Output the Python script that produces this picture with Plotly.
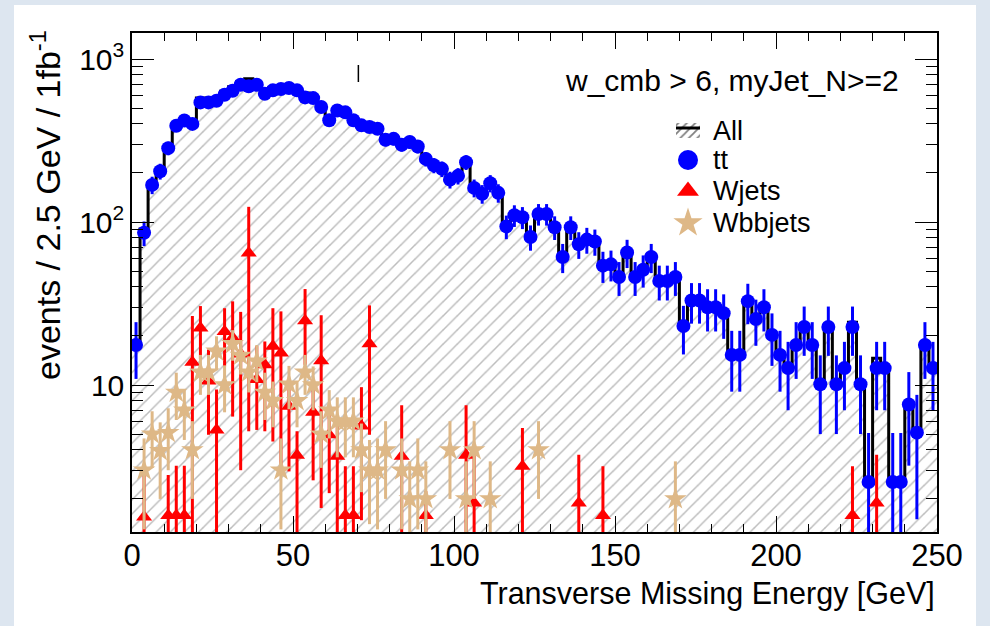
import numpy as np
import plotly.graph_objects as go

BIN_WIDTH = 2.5
N_BINS = 100

# tt (blue points), one value per 2.5 GeV bin
tt = [17.6, 86, 169, 205, 284, 390, 420, 400, 542, 542,
      555, 604, 639, 696, 680, 696, 612, 643, 655, 664,
      643, 582, 576, 508, 421, 484, 471, 421, 392, 383,
      374, 320, 324, 298, 310, 291, 244, 223, 212, 182,
      192, 233, 162, 149, 173, 151, 94, 110, 107, 81,
      112, 112, 93, 61, 93, 73, 78, 76, 54, 55,
      46, 65, 46, 51, 61, 43.5, 43.5, 46, 23, 33,
      33, 30, 30, 27.6, 15.3, 15.3, 32.7, 25.4, 30, 20.3,
      15.3, 12.7, 17.6, 22.7, 17.6, 10.1, 22.7, 10.1, 12.7, 22.7,
      10.1, 2.54, 12.7, 12.7, 2.54, 2.54, 7.6, 5.1, 17.6, 12.7]
tt_err = [6.7, 14.8, 20.7, 22.8, 26.9, 31.5, 32.7, 31.9, 37.1, 37.1,
          37.5, 39.2, 40.3, 42.0, 41.6, 42.0, 39.4, 40.4, 40.8, 41.1,
          40.4, 38.4, 38.2, 35.9, 32.7, 35.1, 34.6, 32.7, 31.6, 31.2,
          30.8, 28.5, 28.7, 27.5, 28.1, 27.2, 24.9, 23.8, 23.2, 21.5,
          22.1, 24.3, 20.3, 19.5, 21.0, 19.6, 15.5, 16.7, 16.5, 14.3,
          16.9, 16.9, 15.4, 12.4, 15.4, 13.6, 14.1, 13.9, 11.7, 11.8,
          10.8, 12.8, 10.8, 11.4, 12.4, 10.5, 10.5, 10.8, 7.6, 9.2,
          9.2, 8.7, 8.7, 8.4, 6.2, 6.2, 9.1, 8.0, 8.7, 7.2,
          6.2, 5.7, 6.7, 7.6, 6.7, 5.1, 7.6, 5.1, 5.7, 7.6,
          5.1, 2.54, 5.7, 5.7, 2.54, 2.54, 4.4, 3.6, 6.7, 5.7]

# Wjets (red triangles): bin index, value, upper and lower end of error bar
wj_bin = [1, 4, 5, 6, 7, 8, 9, 10, 11, 12, 13, 14, 15, 16, 17, 18, 19, 20,
          21, 22, 23, 24, 25, 26, 27, 28, 29, 33, 36, 41, 42, 48, 55, 58, 89, 92]
wj_val = [1.55, 1.58, 1.58, 1.58, 13.8, 22.4, 10.6, 5.3, 21.3, 19.5, 15.5, 64.6,
          10.8, 13.3, 17.3, 15.7, 7.4, 3.7, 24.8, 6.8, 14.1, 4.95, 3.66, 1.58,
          1.58, 5.6, 17.9, 3.66, 1.58, 3.7, 1.89, 3.17, 1.89, 1.58, 1.58, 1.89]
wj_hi = [3.2, 2.8, 3.2, 3.2, 26.5, 30.5, 16.5, 9.4, 29.6, 32.6, 28.1, 124,
         17.3, 18.5, 29.6, 28.3, 10.3, 5.2, 38.8, 10.0, 26.8, 6.7, 5.7, 3.17,
         3.17, 9.7, 30.8, 7.5, 2.23, 7.5, 3.7, 5.45, 3.73, 3.17, 3.17, 3.73]
wj_lo = [0, 0, 0, 0, 0, 14.4, 4.95, 0, 13.0, 6.4, 3.0, 5.2,
         5.3, 5.2, 4.5, 2.95, 2.95, 0, 13.3, 2.6, 1.76, 2.17, 0, 0,
         0, 1.48, 4.95, 0, 0, 0, 0, 0, 0, 0, 0, 0]

# Wbbjets (tan stars): bin index, value, error
wbb_bin = [1, 2, 3, 4, 5, 6, 7, 8, 9, 10, 11, 12, 13, 14, 15, 16, 17, 18, 19, 20,
           21, 22, 23, 24, 25, 26, 27, 28, 29, 30, 31, 33, 34, 35, 36, 39, 41, 42,
           44, 50, 67]
wbb_val = [3.0, 5.0, 3.95, 5.1, 9.0, 7.0, 4.0, 12.0, 12.0, 16.1, 10.0, 17.9, 15.2,
           12.0, 14.0, 9.0, 8.0, 3.0, 10.1, 8.0, 12.0, 10.0, 5.0, 7.0, 6.0, 6.0,
           6.0, 4.0, 3.0, 3.0, 4.0, 3.0, 2.0, 3.0, 2.0, 4.0, 2.0, 4.0, 2.0, 4.0, 2.0]
wbb_err = [1.7, 1.9, 1.95, 2.1, 2.9, 2.4, 2.0, 3.3, 3.3, 3.8, 3.2, 3.8, 3.6,
           3.0, 3.6, 2.9, 2.5, 1.7, 3.0, 2.5, 3.3, 3.0, 1.9, 2.3, 2.4, 2.4,
           2.4, 1.8, 1.6, 1.7, 2.0, 1.7, 1.4, 1.7, 1.4, 2.0, 1.4, 2.0, 1.4, 2.0, 1.4]

y_tick_vals = [10, 100, 1000]
y_tick_text = ["10", "10<sup>2</sup>", "10<sup>3</sup>"]
x_tick_vals = [0, 50, 100, 150, 200, 250]

legend_names = ["All", "tt", "Wjets", "Wbbjets"]
cut_label = "w_cmb > 6, myJet_N>=2"
x_title = "Transverse Missing Energy [GeV]"
y_title = "events / 2.5 GeV / 1fb<sup>-1</sup>"

# ---------------------------------------------------------------------------
edges = np.arange(N_BINS + 1) * BIN_WIDTH
centers = edges[:-1] + BIN_WIDTH / 2
total = np.array(tt, dtype=float)
for b, v in zip(wj_bin, wj_val):
    total[b] += v
for b, v in zip(wbb_bin, wbb_val):
    total[b] += v
step_y = list(total) + [total[-1]]

wj_x = centers[wj_bin]
wj_plus = [h - v for h, v in zip(wj_hi, wj_val)]
wj_minus = [v - l for v, l in zip(wj_val, wj_lo)]
wbb_x = centers[wbb_bin]

BLUE = "#0000ff"
RED = "#ff0000"
TAN = "#deb887"
HATCH = "#7a7a7a"

# plot area in pixels
L, R, T, B = 132, 937, 33, 532
W, H = R - L, B - T


def px(x):
    return (x - L) / W


def py(y):
    return 1 - (y - T) / H


fig = go.Figure()

fig.add_trace(go.Scatter(
    x=edges, y=step_y, mode="lines", line=dict(color="black", width=3, shape="hv"),
    fill="tozeroy", fillcolor="white",
    fillpattern=dict(shape="/", fgcolor=HATCH, bgcolor="white", size=10, solidity=0.15),
    showlegend=False, hoverinfo="skip"))

fig.add_trace(go.Scatter(
    x=centers, y=tt, mode="markers",
    marker=dict(symbol="circle", size=14, color=BLUE),
    error_y=dict(type="data", array=tt_err, color=BLUE, thickness=3, width=0),
    showlegend=False))

fig.add_trace(go.Scatter(
    x=wj_x, y=wj_val, mode="markers",
    marker=dict(symbol="triangle-up", size=14, color=RED),
    error_y=dict(type="data", symmetric=False, array=wj_plus, arrayminus=wj_minus,
                 color=RED, thickness=3, width=0),
    showlegend=False))

fig.add_trace(go.Scatter(
    x=wbb_x, y=wbb_val, mode="markers",
    marker=dict(symbol="star", size=17, color=TAN, line=dict(width=0)),
    error_y=dict(type="data", array=wbb_err, color=TAN, thickness=3, width=0),
    showlegend=False))

# ---- hand-built legend on an overlay axis in [0,1] ----
leg_x_sym = px(688)
leg_rows = [131, 160, 191, 223]
icon_x = [px(676), px(700), px(700), px(676), px(676)]
icon_y = [py(138), py(138), py(123), py(123), py(138)]
fig.add_trace(go.Scatter(
    x=icon_x, y=icon_y, xaxis="x2", yaxis="y2", mode="lines",
    line=dict(color="black", width=0), fill="toself", fillcolor="white",
    fillpattern=dict(shape="/", fgcolor="black", bgcolor="white", size=6, solidity=0.3),
    showlegend=False, hoverinfo="skip"))
fig.add_trace(go.Scatter(
    x=[px(676), px(700)], y=[py(128), py(128)], xaxis="x2", yaxis="y2", mode="lines",
    line=dict(color="black", width=3), showlegend=False, hoverinfo="skip"))
fig.add_trace(go.Scatter(
    x=[leg_x_sym], y=[py(leg_rows[1])], xaxis="x2", yaxis="y2", mode="markers",
    marker=dict(symbol="circle", size=20, color=BLUE), showlegend=False, hoverinfo="skip"))
fig.add_trace(go.Scatter(
    x=[leg_x_sym], y=[py(leg_rows[2])], xaxis="x2", yaxis="y2", mode="markers",
    marker=dict(symbol="triangle-up", size=19, color=RED), showlegend=False, hoverinfo="skip"))
fig.add_trace(go.Scatter(
    x=[leg_x_sym], y=[py(leg_rows[3])], xaxis="x2", yaxis="y2", mode="markers",
    marker=dict(symbol="star", size=22, color=TAN), showlegend=False, hoverinfo="skip"))

annotations = []
for name, row in zip(legend_names, leg_rows):
    annotations.append(dict(text=name, x=px(711), y=py(row), xref="paper", yref="paper",
                            xanchor="left", yanchor="middle", showarrow=False,
                            font=dict(size=27, color="black")))
annotations.append(dict(text=cut_label, x=px(901), y=py(80), xref="paper", yref="paper",
                        xanchor="right", yanchor="middle", showarrow=False,
                        font=dict(size=30, color="black")))
annotations.append(dict(text=x_title, x=1.0, y=py(593), xref="paper", yref="paper",
                        xanchor="right", yanchor="middle", showarrow=False,
                        font=dict(size=30.5, color="black")))
annotations.append(dict(text=y_title, x=px(45), y=py(28), xref="paper", yref="paper",
                        xanchor="center", yanchor="top", textangle=-90, showarrow=False,
                        font=dict(size=34, color="black")))

y_minor = [m * 10 ** d for d in range(0, 4) for m in range(2, 10) if 1.25 < m * 10 ** d < 1450]
x_minor = [v for v in range(0, 251, 10) if v % 50]

shapes = [
    dict(type="rect", xref="paper", yref="paper", x0=px(14), x1=px(976), y0=py(640), y1=py(5),
         fillcolor="white", line=dict(width=0), layer="below"),
    dict(type="line", xref="x", yref="paper", x0=70.3, x1=70.3, y0=py(82), y1=py(65),
         line=dict(color="black", width=1.5)),
]

fig.update_layout(
    width=990, height=626,
    margin=dict(l=L, r=990 - R, t=T, b=626 - B),
    paper_bgcolor="#dde6f0", plot_bgcolor="white",
    font=dict(family="Liberation Sans, Arial, sans-serif", color="black"),
    showlegend=False,
    annotations=annotations, shapes=shapes,
    xaxis=dict(range=[0, 250], tickvals=x_tick_vals, ticks="inside", ticklen=16, tickwidth=1,
               tickcolor="black", showline=True, linecolor="black", linewidth=1.5, mirror="ticks",
               showgrid=False, zeroline=False, tickfont=dict(size=31), ticklabelstandoff=-5,
               minor=dict(tickvals=x_minor, ticks="inside", ticklen=8, tickcolor="black", showgrid=False)),
    yaxis=dict(type="log", range=[0.098, 3.16], tickvals=y_tick_vals, ticktext=y_tick_text,
               ticks="inside", ticklen=22, tickwidth=1, tickcolor="black",
               showline=True, linecolor="black", linewidth=1.5, mirror="ticks",
               showgrid=False, zeroline=False, tickfont=dict(size=30),
               minor=dict(tickvals=y_minor, ticks="inside", ticklen=11, tickcolor="black", showgrid=False)),
    xaxis2=dict(overlaying="x", range=[0, 1], visible=False),
    yaxis2=dict(overlaying="y", range=[0, 1], visible=False),
)

fig.write_html("out.html")
